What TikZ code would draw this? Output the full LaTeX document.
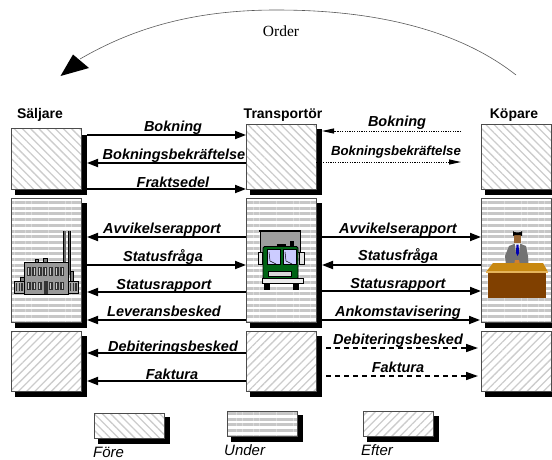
\documentclass[tikz,border=0pt]{standalone}
\usepackage{fontspec}
\setmainfont{Liberation Sans}
\newfontfamily\serifface{Liberation Serif}
\usetikzlibrary{patterns.meta,arrows.meta}
\definecolor{deskfront}{RGB}{128,64,0}
\definecolor{desktop}{RGB}{200,136,16}
\definecolor{deskedge}{RGB}{230,180,90}
\definecolor{truckgreen}{RGB}{0,100,20}
\tikzset{
  x=1pt,y=-1pt,
  basebox/.style={draw=black!70,line width=.7pt,minimum width=70pt,inner sep=0pt,outer sep=0pt,anchor=north west},
  fore/.style={basebox,pattern={Lines[angle=-45,distance=5.8pt,line width=1.3pt]},pattern color=black!20},
  under/.style={basebox,fill=white,pattern={Lines[angle=0,distance=5.7pt,line width=3pt]},pattern color=black!22},
  efter/.style={basebox,pattern={Lines[angle=45,distance=5.8pt,line width=1.3pt]},pattern color=black!20},
  shadow/.style={fill=black,draw=none},
  conn/.style={line width=1.8pt,-{Triangle[length=11pt,width=8pt]}},
  dotconn/.style={line width=1pt,dash pattern=on 1.2pt off 1.2pt,-{Triangle[length=12pt,width=5pt]}},
  dashconn/.style={line width=1.5pt,dash pattern=on 5pt off 4pt,-{Triangle[length=12pt,width=8pt]}},
  lab/.style={font=\fontsize{14.5}{16}\selectfont\bfseries\itshape,inner sep=0pt,anchor=base},
  labs/.style={font=\fontsize{13.2}{15}\selectfont\bfseries\itshape,inner sep=0pt,anchor=base},
  head/.style={font=\fontsize{14}{16}\selectfont\bfseries,inner sep=0pt,anchor=base},
  legend/.style={font=\fontsize{15}{17}\selectfont\itshape,inner sep=0pt,anchor=base west},
}
\newcommand{\shbox}[7]{% name,style,x,y,w,h,shift
  \fill[shadow] (#3+#5+1,#4+#7) rectangle (#3+#5+6,#4+#6+6);
  \fill[shadow] (#3+4,#4+#6+1) rectangle (#3+#5+6,#4+#6+6);
  \node[#2,minimum width=#5 pt,minimum height=#6 pt] (#1) at (#3,#4) {};
}
\begin{document}
\begin{tikzpicture}
\useasboundingbox (0,0) rectangle (552,459);
% boxes
\shbox{s1}{fore}{11}{128}{70}{61}{7}
\shbox{t1}{fore}{246}{124}{70}{65}{5}
\shbox{k1}{fore}{481}{124}{70}{65}{130}
\shbox{s2}{under}{11}{198}{70}{124}{5}
\shbox{t2}{under}{246}{198}{70}{124}{5}
\shbox{k2}{under}{481}{198}{70}{124}{130}
\shbox{s3}{efter}{11}{331}{70}{60}{5}
\shbox{t3}{efter}{246}{331}{70}{60}{5}
\shbox{k3}{efter}{481}{331}{70}{60}{70}
\shbox{l1}{fore}{94}{413}{70}{25}{4}
\shbox{l2}{under}{227}{411}{70}{25}{4}
\shbox{l3}{efter}{363}{411}{70}{25}{5}
% order arc
\coordinate (oa) at (516,75);
\coordinate (ob) at (80,59);
\draw[black!65,line width=.6pt] (oa) .. controls (440,15) and (330,10) .. (276,10) .. controls (190,10) and (130,30) .. (ob);
\fill[black] (60.5,76) -- (73,54.5) -- (89,68) -- cycle;
\node[font=\serifface\fontsize{15.5}{17}\selectfont,inner sep=0pt,anchor=base] (order) at (281,36) {Order};
% heads
\node[head] (hs) at (40,118) {Säljare};
\node[head] (ht) at (283,118) {Transportör};
\node[head] (hk) at (514,118) {Köpare};
% left connectors
\draw[conn] ([xshift=6pt]s1.east |- 0,135) -- (t1.west |- 0,135);
\draw[conn] (t1.west |- 0,163) -- ([xshift=6pt]s1.east |- 0,163);
\draw[conn] ([xshift=6pt]s1.east |- 0,189) -- (t1.west |- 0,189);
\draw[conn] ([xshift=6pt]s2.east |- 0,265) -- (t2.west |- 0,265);
\foreach \y in {237,292,320}{\draw[conn] (t2.west |- 0,\y) -- ([xshift=6pt]s2.east |- 0,\y);}
\foreach \y in {353,381}{\draw[conn] (t3.west |- 0,\y) -- ([xshift=6pt]s3.east |- 0,\y);}
% right connectors
\coordinate (rk) at (461,0);
\draw[dotconn] (rk |- 0,131) -- ([xshift=6pt]t1.east |- 0,131);
\draw[dotconn] (t1.east |- 0,162) -- (rk |- 0,162);
\foreach \y in {237,291}{\draw[conn] ([xshift=6pt]t2.east |- 0,\y) -- (k2.west |- 0,\y);}
\draw[conn] (k2.west |- 0,265) -- ([xshift=6pt]t2.east |- 0,265);
\draw[conn] ([xshift=6pt]t2.east |- 0,320) -- ([xshift=-1pt]k2.west |- 0,320);
\foreach \y in {348,376}{\draw[dashconn] ([xshift=1pt]t3.east |- 0,\y) -- ([xshift=-3pt]k3.west |- 0,\y);}
% labels
\node[lab] (a1) at (173,131) {Bokning};
\node[lab] (a2) at (174,159) {Bokningsbekräftelse};
\node[lab] (a3) at (173,187) {Fraktsedel};
\node[lab] (a4) at (162,233) {Avvikelserapport};
\node[lab] (a5) at (163,261) {Statusfråga};
\node[lab] (a6) at (164,289) {Statusrapport};
\node[lab] (a7) at (164,316) {Leveransbesked};
\node[lab] (a8) at (173,351) {Debiteringsbesked};
\node[lab] (a9) at (172,379) {Faktura};
\node[lab] (b1) at (397,126) {Bokning};
\node[labs] (b2) at (396,155) {Bokningsbekräftelse};
\node[lab] (b3) at (398,233) {Avvikelserapport};
\node[lab] (b4) at (398,260) {Statusfråga};
\node[lab] (b5) at (398,288) {Statusrapport};
\node[lab] (b6) at (398,316) {Ankomstavisering};
\node[lab] (b7) at (398,344) {Debiteringsbesked};
\node[lab] (b8) at (398,372) {Faktura};
\node[legend] (f1) at (93,457) {Före};
\node[legend] (f2) at (224,455) {Under};
\node[legend] (f3) at (361,455) {Efter};
% factory
\fill[black] (63,231) rectangle (66,262);
\fill[black!60] (64,231) rectangle (65.5,262);
\fill[black] (67.5,231) rectangle (70.5,275);
\fill[black!60] (68.5,231) rectangle (70,275);
\begin{scope}[draw=black,line width=.5pt]
\filldraw[fill=black!50] (70,271) rectangle (73,281);
\filldraw[fill=black!50] (20,277) rectangle (24,282);
\filldraw[fill=black!50] (35,259) rectangle (38,262);
\filldraw[fill=black!50] (43,258) rectangle (47,262);
\filldraw[fill=black!35] (14,281) rectangle (24,293);
\filldraw[fill=black!35] (68,281) rectangle (78,293);
\filldraw[fill=black!40,line width=.8pt] (24,262) rectangle (68,294);
\end{scope}
\foreach \i in {0,...,6}{
  \fill[black!80] (26.5+\i*5.6,267) rectangle (30.5+\i*5.6,275.5);
  \fill[black!20] (28+\i*5.6,268) rectangle (29+\i*5.6,275);
}
\foreach \i in {0,1,2,4,5,6}{
  \fill[black!80] (26.5+\i*5.6,281.5) rectangle (30.5+\i*5.6,290);
  \fill[black!20] (28+\i*5.6,282.5) rectangle (29+\i*5.6,289);
}
\fill[black!80] (43.5,281) rectangle (48,294);
\foreach \i in {0,1,2}{\fill[black!80] (16+\i*2.7,283) rectangle (17.2+\i*2.7,291);\fill[black!80] (70+\i*2.7,283) rectangle (71.2+\i*2.7,291);}
% truck
\filldraw[fill=black!38,draw=black,line width=.6pt] (260,231) rectangle (300,252);
\fill[black] (259,230) rectangle (301,231.5);
\fill[black] (290,241) rectangle (294,247);
\fill[black] (277,243.5) rectangle (286,246);
\filldraw[fill=black!10,draw=black,line width=.5pt] (258,252) rectangle (262,264);
\filldraw[fill=black!10,draw=black,line width=.5pt] (299.5,252) rectangle (304,264);
\fill[black] (264,283) rectangle (270,290);
\fill[black] (293,283) rectangle (299,290);
\filldraw[fill=truckgreen,draw=black,line width=.8pt,rounded corners=1.5pt] (263,246.5) rectangle (298,279);
\filldraw[fill=blue!20!white,draw=black,line width=.7pt] (267,249.5) rectangle (280.5,264);
\filldraw[fill=blue!20!white,draw=black,line width=.7pt] (283,249.5) rectangle (296,264);
\draw[black,line width=.5pt] (269,252) -- (270,261) -- (276,264);
\draw[black,line width=.5pt] (285,252) -- (286,261) -- (292,264);
\filldraw[fill=black!15,draw=black,line width=.5pt] (268,271) rectangle (291,276);
\filldraw[fill=black!8,draw=black,line width=.6pt] (262,278.5) rectangle (303,283);
% person
\fill[brown!80!black] (514,235) rectangle (521,243);
\fill[black] (513,231) arc (180:0:4.5 and 1.5) -- (522,236) -- (520,235) -- (515,235) -- (513,236) -- cycle;
\fill[black!55] (506,265) -- (505,256) -- (509,246) -- (514,244) -- (521,244) -- (526,246) -- (528,256) -- (528.5,265) -- cycle;
\fill[white] (515,243.5) -- (520,243.5) -- (519,252) -- (516,252) -- cycle;
\fill[blue!70!black] (516.4,244.5) -- (518.6,244.5) -- (519,253) -- (517.5,256) -- (516,253) -- cycle;
\fill[brown!70!orange] (514,265) -- (515,260) -- (519,260) -- (520,265) -- cycle;
\fill[desktop] (493,263) -- (543,263) -- (548,272) -- (486,272) -- cycle;
\fill[deskedge] (486,270.5) rectangle (548,272.5);
\fill[deskfront] (488,272.5) rectangle (546,298);
\end{tikzpicture}
\end{document}
